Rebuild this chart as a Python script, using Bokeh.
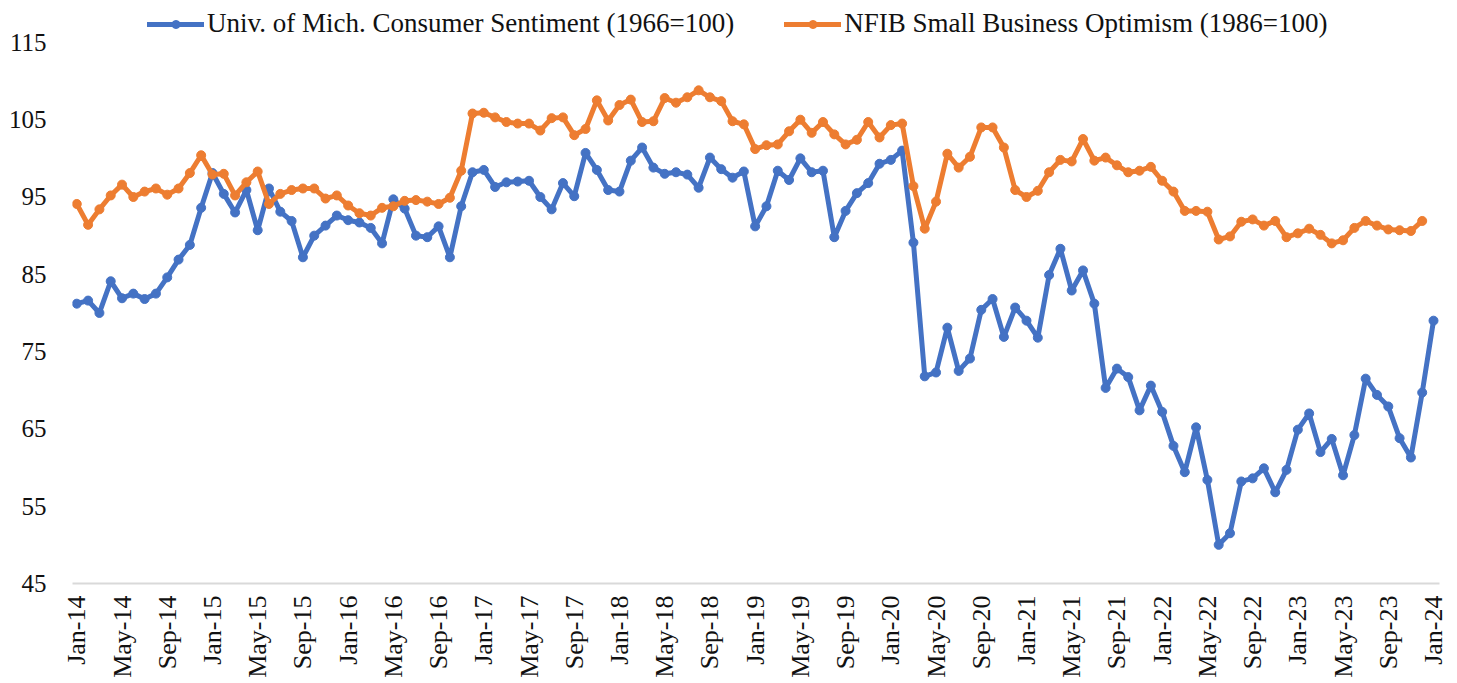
import math
from bokeh.plotting import figure
from bokeh.models import FixedTicker, Legend, LegendItem, Range1d
from bokeh.embed import file_html
from bokeh.resources import INLINE

# ---- data (monthly, Jan-2014 .. Jan-2024) ----
umich = [
    81.2, 81.6, 80.0, 84.1, 81.9, 82.5, 81.8, 82.5, 84.6, 86.9, 88.8, 93.6,   # 2014
    98.1, 95.4, 93.0, 95.9, 90.7, 96.1, 93.1, 91.9, 87.2, 90.0, 91.3, 92.6,   # 2015
    92.0, 91.7, 91.0, 89.0, 94.7, 93.5, 90.0, 89.8, 91.2, 87.2, 93.8, 98.2,   # 2016
    98.5, 96.3, 96.9, 97.0, 97.1, 95.0, 93.4, 96.8, 95.1, 100.7, 98.5, 95.9,  # 2017
    95.7, 99.7, 101.4, 98.8, 98.0, 98.2, 97.9, 96.2, 100.1, 98.6, 97.5, 98.3, # 2018
    91.2, 93.8, 98.4, 97.2, 100.0, 98.2, 98.4, 89.8, 93.2, 95.5, 96.8, 99.3,  # 2019
    99.8, 101.0, 89.1, 71.8, 72.3, 78.1, 72.5, 74.1, 80.4, 81.8, 76.9, 80.7,  # 2020
    79.0, 76.8, 84.9, 88.3, 82.9, 85.5, 81.2, 70.3, 72.8, 71.7, 67.4, 70.6,   # 2021
    67.2, 62.8, 59.4, 65.2, 58.4, 50.0, 51.5, 58.2, 58.6, 59.9, 56.8, 59.7,   # 2022
    64.9, 67.0, 62.0, 63.7, 59.0, 64.2, 71.5, 69.4, 67.9, 63.8, 61.3, 69.7,   # 2023
    79.0,                                                                     # 2024
]
nfib = [
    94.1, 91.4, 93.4, 95.2, 96.6, 95.0, 95.7, 96.1, 95.3, 96.1, 98.1, 100.4,  # 2014
    97.9, 98.0, 95.2, 96.9, 98.3, 94.1, 95.4, 95.9, 96.1, 96.1, 94.8, 95.2,   # 2015
    93.9, 92.9, 92.6, 93.6, 93.8, 94.5, 94.6, 94.4, 94.1, 94.9, 98.4, 105.8,  # 2016
    105.9, 105.3, 104.7, 104.5, 104.5, 103.6, 105.2, 105.3, 103.0, 103.8, 107.5, 104.9,  # 2017
    106.9, 107.6, 104.7, 104.8, 107.8, 107.2, 107.9, 108.8, 107.9, 107.4, 104.8, 104.4,  # 2018
    101.2, 101.7, 101.8, 103.5, 105.0, 103.3, 104.7, 103.1, 101.8, 102.4, 104.7, 102.7,  # 2019
    104.3, 104.5, 96.4, 90.9, 94.4, 100.6, 98.8, 100.2, 104.0, 104.0, 101.4, 95.9,       # 2020
    95.0, 95.8, 98.2, 99.8, 99.6, 102.5, 99.7, 100.1, 99.1, 98.2, 98.4, 98.9,   # 2021
    97.1, 95.7, 93.2, 93.2, 93.1, 89.5, 89.9, 91.8, 92.1, 91.3, 91.9, 89.8,     # 2022
    90.3, 90.9, 90.1, 89.0, 89.4, 91.0, 91.9, 91.3, 90.8, 90.7, 90.6, 91.9,     # 2023
]
tick_labels = [
    "Jan-14", "May-14", "Sep-14", "Jan-15", "May-15", "Sep-15", "Jan-16", "May-16",
    "Sep-16", "Jan-17", "May-17", "Sep-17", "Jan-18", "May-18", "Sep-18", "Jan-19",
    "May-19", "Sep-19", "Jan-20", "May-20", "Sep-20", "Jan-21", "May-21", "Sep-21",
    "Jan-22", "May-22", "Sep-22", "Jan-23", "May-23", "Sep-23", "Jan-24",
]
series_names = ["Univ. of Mich. Consumer Sentiment (1966=100)",
                "NFIB Small Business Optimism (1986=100)"]
y_ticks = [45, 55, 65, 75, 85, 95, 105, 115]

x_um = list(range(len(umich)))
x_nf = list(range(len(nfib)))
tick_pos = [i * 4 for i in range(len(tick_labels))]

FONT = "Liberation Serif"
BLUE = "#4472C4"
ORANGE = "#ED7D31"
TXT = "#111111"

p = figure(width=1449, height=680, output_backend="svg", toolbar_location=None,
           x_range=Range1d(-0.38, 120.53), y_range=Range1d(45, 120.42),
           min_border_left=72, min_border_right=10, min_border_top=0, min_border_bottom=96)
p.outline_line_color = None
p.xgrid.visible = False
p.ygrid.visible = False
p.background_fill_color = "white"
p.border_fill_color = "white"

l1 = p.line(x_um, umich, color=BLUE, line_width=5, line_join="round", line_cap="round")
s1 = p.scatter(x_um, umich, size=9, color=BLUE)
l2 = p.line(x_nf, nfib, color=ORANGE, line_width=5, line_join="round", line_cap="round")
s2 = p.scatter(x_nf, nfib, size=9, color=ORANGE)

# axes
p.yaxis.ticker = FixedTicker(ticks=y_ticks)
p.yaxis.axis_line_color = None
p.yaxis.major_tick_line_color = None
p.yaxis.minor_tick_line_color = None
p.yaxis.major_label_text_font = FONT
p.yaxis.major_label_text_font_size = "25px"
p.yaxis.major_label_text_color = TXT
p.yaxis.major_label_standoff = 20

p.xaxis.ticker = FixedTicker(ticks=tick_pos)
p.xaxis.major_label_overrides = {pos: lab for pos, lab in zip(tick_pos, tick_labels)}
p.xaxis.major_label_orientation = math.pi / 2
p.xaxis.axis_line_color = "#D9D9D9"
p.xaxis.axis_line_width = 2
p.xaxis.major_tick_line_color = None
p.xaxis.minor_tick_line_color = None
p.xaxis.major_label_text_font = FONT
p.xaxis.major_label_text_font_size = "26px"
p.xaxis.major_label_text_color = TXT
p.xaxis.major_label_standoff = 6

legend = Legend(
    items=[LegendItem(label=series_names[0], renderers=[l1, s1]),
           LegendItem(label=series_names[1], renderers=[l2, s2])],
    orientation="horizontal", location=(75, 544),
    label_text_font=FONT, label_text_font_size="27px", label_text_color=TXT,
    glyph_width=57, glyph_height=20, label_standoff=3, spacing=50,
    padding=0, margin=0, border_line_color=None, background_fill_alpha=0,
)
p.add_layout(legend, "center")

open("out.html", "w").write(file_html(p, INLINE))
